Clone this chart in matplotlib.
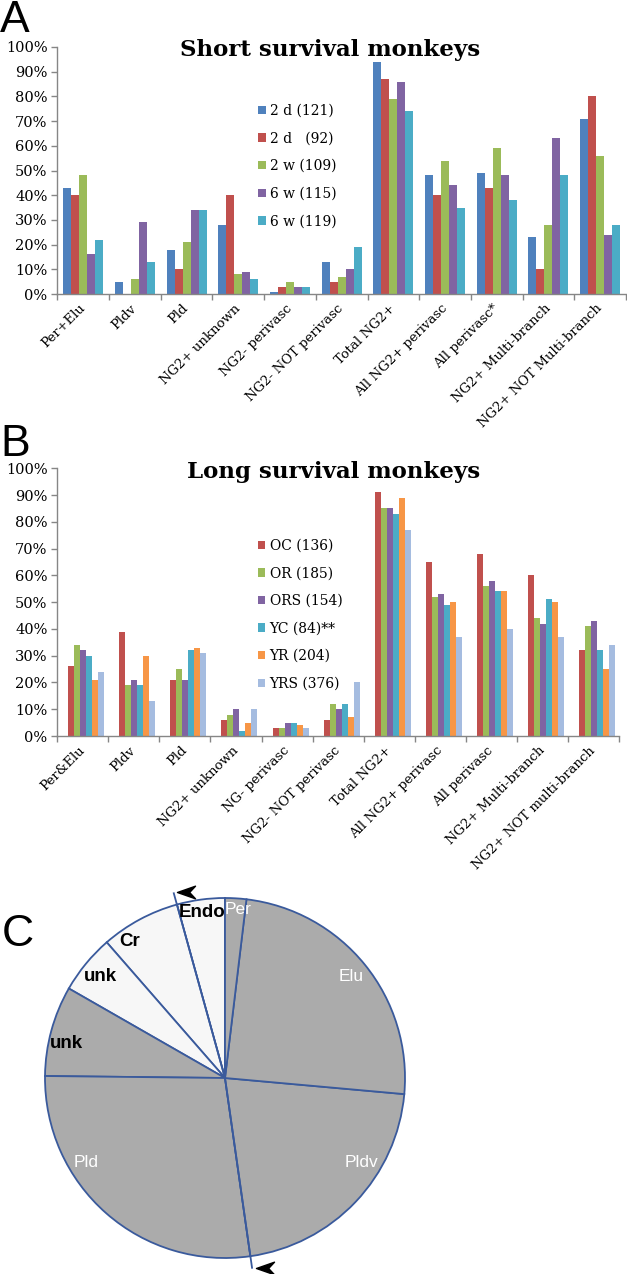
import matplotlib
matplotlib.use("Agg")
import matplotlib.pyplot as plt
import numpy as np
from matplotlib.path import Path
from matplotlib.transforms import ScaledTranslation

# --- Datos panel A (supervivencia corta) ---
categorias_a = ["Per+Elu", "Pldv", "Pld", "NG2+ unknown", "NG2- perivasc",
                "NG2- NOT perivasc", "Total NG2+", "All NG2+ perivasc",
                "All perivasc*", "NG2+ Multi-branch", "NG2+ NOT Multi-branch"]
series_a = ["2 d (121)", "2 d   (92)", "2 w (109)", "6 w (115)", "6 w (119)"]
d2_121 = [43, 5, 18, 28, 1, 13, 94, 48, 49, 23, 71]
d2_92 = [40, 0, 10, 40, 3, 5, 87, 40, 43, 10, 80]
w2_109 = [48, 6, 21, 8, 5, 7, 79, 54, 59, 28, 56]
w6_115 = [16, 29, 34, 9, 3, 10, 86, 44, 48, 63, 24]
w6_119 = [22, 13, 34, 6, 3, 19, 74, 35, 38, 48, 28]

# --- Datos panel B (supervivencia larga) ---
categorias_b = ["Per&Elu", "Pldv", "Pld", "NG2+ unknown", "NG- perivasc",
                "NG2- NOT perivasc", "Total NG2+", "All NG2+ perivasc",
                "All perivasc", "NG2+ Multi-branch", "NG2+ NOT multi-branch"]
series_b = ["OC (136)", "OR (185)", "ORS (154)", "YC (84)**", "YR (204)", "YRS (376)"]
oc = [26, 39, 21, 6, 3, 6, 91, 65, 68, 60, 32]
or_ = [34, 19, 25, 8, 3, 12, 85, 52, 56, 44, 41]
ors = [32, 21, 21, 10, 5, 10, 85, 53, 58, 42, 43]
yc = [30, 19, 32, 2, 5, 12, 83, 49, 54, 51, 32]
yr = [21, 30, 33, 5, 4, 7, 89, 50, 54, 50, 25]
yrs = [24, 13, 31, 10, 3, 20, 77, 37, 40, 37, 34]

# --- Datos panel C (sectores, antihorario desde arriba) ---
pie_labels = ["Endo", "Cr", "unk", "unk", "Pld", "Pldv", "Elu", "Per"]
pie_sizes = [4.3, 7.1, 5.3, 8.1, 27.4, 21.3, 24.5, 1.9]
en_gris = [False, False, False, True, True, True, True, True]

AZUL, ROJO, VERDE, MORADO, CIAN = "#4F81BD", "#C0504D", "#9BBB59", "#8064A2", "#4BACC6"
NARANJA, CELESTE = "#F79646", "#A5BCE0"
GRIS_EJE = "#868686"

W, H = 627, 1275
fig = plt.figure(figsize=(W / 100, H / 100), dpi=100)


def px_axes(x0, y0, x1, y1):
    # caja en pixeles (origen arriba-izquierda) -> fraccion de figura
    return fig.add_axes([x0 / W, 1 - y1 / H, (x1 - x0) / W, (y1 - y0) / H])


def panel_barras(ax, cats, nombres, valores, colores, ancho, inicio):
    x = np.arange(len(cats))
    for j, (v, c, n) in enumerate(zip(valores, colores, nombres)):
        ax.bar(x + inicio + j * ancho, np.array(v) / 100.0, width=ancho,
               align="edge", color=c, label=n, linewidth=0)
    ax.set_xlim(0, len(cats))
    ax.set_ylim(0, 1)
    ticks = np.arange(0, 11) / 10
    ax.set_yticks(ticks)
    ax.set_yticklabels([f"{int(round(t * 100))}%" for t in ticks],
                       family="DejaVu Serif", fontsize=10.5)
    ax.set_xticks(x + 0.5)
    ax.set_xticklabels(cats, rotation=45, ha="right", va="center",
                       rotation_mode="anchor", family="DejaVu Serif", fontsize=9.5)
    desplazar = ScaledTranslation(4 / 100, 0, fig.dpi_scale_trans)
    for t in ax.get_xticklabels():
        t.set_transform(t.get_transform() + desplazar)
    ax.set_xticks(np.arange(len(cats) + 1), minor=True)
    ax.tick_params(axis="x", which="major", length=0, pad=9)
    ax.tick_params(axis="x", which="minor", length=4, color=GRIS_EJE, width=1)
    ax.tick_params(axis="y", length=4, color=GRIS_EJE, width=1, pad=3)
    for s in ["top", "right"]:
        ax.spines[s].set_visible(False)
    for s in ["left", "bottom"]:
        ax.spines[s].set_color(GRIS_EJE)
        ax.spines[s].set_linewidth(1)


leyenda = dict(loc="upper left", frameon=False, handlelength=0.55,
               handleheight=0.55, handletextpad=0.3, labelspacing=0.98,
               borderaxespad=0, prop={"family": "DejaVu Serif", "size": 10})

# Panel A
ax_a = px_axes(57.3, 47, 626, 294)
panel_barras(ax_a, categorias_a, series_a,
             [d2_121, d2_92, w2_109, w6_115, w6_119],
             [AZUL, ROJO, VERDE, MORADO, CIAN], 0.155, 0.1125)
ax_a.legend(bbox_to_anchor=(0.343, 0.792), **leyenda)
fig.text(330 / W, 1 - 50 / H, "Short survival monkeys", ha="center", va="center",
         family="DejaVu Serif", fontweight="bold", fontsize=16.5)

# Panel B
ax_b = px_axes(57.3, 468.3, 619, 736)
panel_barras(ax_b, categorias_b, series_b,
             [oc, or_, ors, yc, yr, yrs],
             [ROJO, VERDE, MORADO, CIAN, NARANJA, CELESTE], 0.1175, 0.215)
ax_b.legend(bbox_to_anchor=(0.347, 0.758), **leyenda)
fig.text(334 / W, 1 - 472 / H, "Long survival monkeys", ha="center", va="center",
         family="DejaVu Serif", fontweight="bold", fontsize=16.5)

# Letras de panel
for letra, (lx, ly) in zip("ABC", [(0, 0), (0, 424), (2, 914)]):
    fig.text(lx / W, 1 - ly / H, letra, ha="left", va="top",
             family="Liberation Sans", fontsize=32)

# Panel C
R_PX = 180
media = 195
ax_c = px_axes(225 - media, 1078 - media, 225 + media, 1078 + media)
borde = "#3A5A9C"
colores_pie = ["#ABABAB" if g else "#F7F7F7" for g in en_gris]
ax_c.pie(pie_sizes, startangle=90, counterclock=True, colors=colores_pie,
         wedgeprops=dict(edgecolor=borde, linewidth=1.3), radius=1)
lim = media / R_PX
ax_c.set_xlim(-lim, lim)
ax_c.set_ylim(-lim, lim)
ax_c.set_aspect("equal")
ax_c.axis("off")

# lineas prolongadas con flechas (limite Cr/Endo y Pld/Pldv)
acum = np.cumsum(pie_sizes) / np.sum(pie_sizes) * 360
flecha = Path([(-1, 0), (1, 0.7), (0.35, 0), (1, -0.7), (-1, 0)],
              [Path.MOVETO, Path.LINETO, Path.LINETO, Path.LINETO, Path.CLOSEPOLY])
for idx in [0, 4]:
    ang = np.deg2rad(90 + acum[idx])
    ex, ey = 1.07 * np.cos(ang), 1.07 * np.sin(ang)
    ax_c.plot([0, ex], [0, ey], color=borde, lw=1.3, solid_capstyle="butt")
    ax_c.plot(ex + 0.07, ey + 0.005, marker=flecha, markersize=13,
              color="black", linestyle="none")

pos_labels = [(-0.128, 0.919), (-0.53, 0.76), (-0.694, 0.565), (-0.88, 0.194),
              (-0.77, -0.47), (0.76, -0.47), (0.70, 0.565), (0.074, 0.935)]
for lab, g, (tx, ty) in zip(pie_labels, en_gris, pos_labels):
    if g and lab != "unk":
        ax_c.text(tx, ty, lab, ha="center", va="center", color="white",
                  family="Liberation Sans", fontsize=12.5)
    else:
        ax_c.text(tx, ty, lab, ha="center", va="center", color="black",
                  family="Liberation Sans", fontsize=13.5, fontweight="bold")

fig.savefig("out.png", dpi=100)
